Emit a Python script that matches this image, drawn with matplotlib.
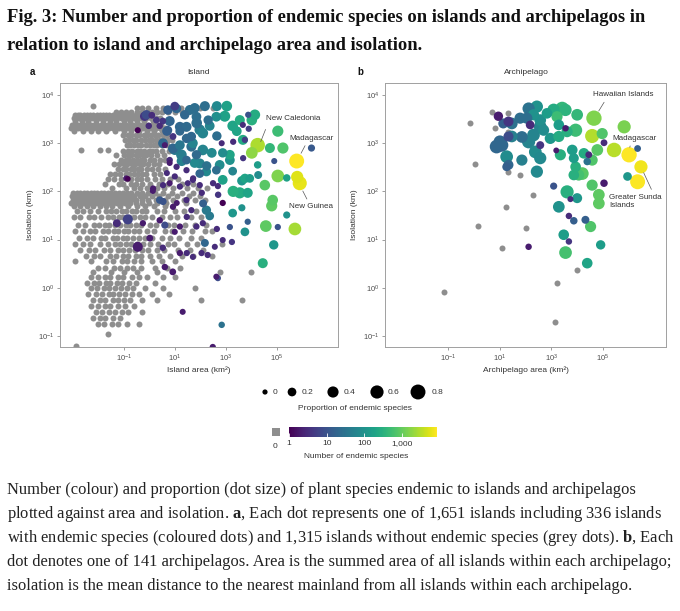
import matplotlib
matplotlib.use("Agg")
import matplotlib.pyplot as plt
import numpy as np
from matplotlib.colors import LogNorm
from matplotlib.cm import ScalarMappable
from matplotlib.patches import Rectangle
from matplotlib.ticker import NullLocator

plt.rcParams['font.family'] = ['Liberation Sans', 'DejaVu Sans']
plt.rcParams['mathtext.fontset'] = 'custom'
plt.rcParams['mathtext.rm'] = 'Liberation Sans'
plt.rcParams['mathtext.it'] = 'Liberation Sans:italic'
plt.rcParams['mathtext.bf'] = 'Liberation Serif:bold'

# ---- data (log10 area km2, log10 isolation km) ----
# islands without endemics, by rows: (log10 isolation, [log10 area, ...])
grey_rows_a = [
    (3.77, [-2.2]),
    (3.74, [-0.5, -0.3, -0.05, 0.25, 0.55, 0.85, 1.25, 1.6, 2.0, 2.5]),
    (3.65, [-1.3, -1.1, -0.9, -0.7, -0.5, -0.3, -0.1, 0.1, 0.3, 0.5, 0.75, 1.0, 1.3]),
    (3.58, [-2.93, -2.81, -2.7, -2.57, -2.44, -2.33, -2.2, -2.06, -1.95, -1.82, -1.7, -1.56,
            -1.43, -1.31, -1.18, -1.05, -0.92, -0.8, -0.66, -0.52, -0.38, -0.22, -0.05, 0.12]),
    (3.52, [-2.97, -2.86, -2.74, -2.62, -2.5, -2.38, -2.26, -2.13, -2.0, -1.88, -1.75, -1.62,
            -1.5, -1.37, -1.25, -1.12, -0.98, -0.86, -0.72, -0.6, -0.45, -0.3, -0.14, 0.05,
            0.25, 0.42]),
    (3.47, [-2.9, -2.65, -2.4, -2.1, -1.8, -1.55, -1.3, -1.0, -0.75, -0.5, -0.2, 0.15]),
    (3.37, [-3.02, -2.9, -2.78, -2.66, -2.53, -2.41, -2.28, -2.16, -2.03, -1.91, -1.78, -1.66,
            -1.53, -1.41, -1.28, -1.16, -1.03, -0.9, -0.77, -0.63, -0.5, -0.36, -0.21, -0.06,
            0.1, 0.27, 0.45]),
    (3.31, [-3.05, -2.93, -2.8, -2.68, -2.56, -2.44, -2.31, -2.19, -2.06, -1.94, -1.81, -1.69,
            -1.56, -1.44, -1.31, -1.19, -1.06, -0.93, -0.8, -0.66, -0.52, -0.38, -0.23, -0.08,
            0.08, 0.25, 0.42, 0.6]),
    (3.25, [-2.95, -2.6, -2.3, -2.0, -1.7, -1.35, -1.0, -0.7, -0.4, -0.1, 0.2, 0.5]),
    (3.17, [-1.02, -0.84, -0.71, -0.52, -0.41, -0.22, -0.08, 0.07, 0.24, 0.33, 0.52, 0.68]),
    (3.07, [-0.96, -0.79, -0.63, -0.51, -0.33, -0.18, -0.02, 0.12, 0.26, 0.43, 0.57, 0.73, 0.88]),
    (2.97, [-0.88, -0.77, -0.58, -0.43, -0.31, -0.13, 0.02, 0.18, 0.31, 0.48, 0.71]),
    (2.86, [-2.66, -1.94, -1.63]),
    (2.84, [-1.03, -0.82, -0.66, -0.48, -0.36, -0.19, -0.03, 0.12, 0.28, 0.51, 0.78]),
    (2.76, [-1.3, -0.98, -0.83, -0.72, -0.53, -0.41, -0.24, -0.12, 0.08, 0.31, 0.57]),
    (2.66, [-1.12, -0.93, -0.81, -0.63, -0.49, -0.33, -0.21, 0.02, 0.19, 0.42, 0.61]),
    (2.56, [-1.38, -1.17, -0.98, -0.86, -0.68, -0.56, -0.38, -0.26, -0.04, 0.17, 0.39]),
    (2.46, [-1.22, -1.03, -0.91, -0.73, -0.61, -0.43, -0.31, -0.08, 0.12, 0.33, 0.62]),
    (2.36, [-1.52, -1.33, -1.16, -0.93, -0.81, -0.58, -0.46, -0.28, -0.11, 0.17, 0.44]),
    (2.26, [-1.61, -1.38, -1.12, -0.88, -0.71, -0.48, -0.31, -0.08, 0.21, 0.48, 0.82, 1.12]),
    (2.16, [-1.72, -1.18, -1.02, -0.73, -0.52, -0.28, 0.02, 0.38, 0.72, 1.28, 1.72]),
    (2.07, [-1.48, -0.92, -0.58, -0.37, -0.08, 0.31, 0.58, 0.92, 1.48, 1.92, 2.28]),
    (1.97, [-2.98, -2.84, -2.71, -2.57, -2.45, -2.3, -2.17, -2.03, -1.9, -1.76, -1.63, -1.49,
            -1.35, -1.2, -1.04, -0.88, -0.7, -0.5, -0.28, -0.05, 0.22, 0.55, 0.9, 1.3, 1.7]),
    (1.90, [-3.04, -2.91, -2.78, -2.64, -2.51, -2.38, -2.24, -2.1, -1.97, -1.83, -1.69, -1.56,
            -1.42, -1.27, -1.12, -0.96, -0.78, -0.6, -0.38, -0.15, 0.1, 0.4, 0.75, 1.1, 1.55, 2.0]),
    (1.83, [-3.0, -2.87, -2.74, -2.6, -2.47, -2.33, -2.2, -2.06, -1.93, -1.79, -1.65, -1.51,
            -1.37, -1.22, -1.06, -0.9, -0.72, -0.52, -0.3, -0.05, 0.25, 0.6, 0.95, 1.35, 1.8, 2.2]),
    (1.76, [-3.05, -2.93, -2.8, -2.67, -2.54, -2.4, -2.27, -2.13, -2.0, -1.86, -1.72, -1.58,
            -1.44, -1.28, -1.12, -0.95, -0.75, -0.52, -0.28, 0.0, 0.3, 0.65, 1.0, 1.45]),
    (1.70, [-2.95, -2.7, -2.45, -2.2, -1.95, -1.7, -1.45, -1.15, -0.85, -0.5, -0.15, 0.2, 0.6]),
    (1.59, [-2.85, -2.58, -2.31, -2.02, -1.68, -1.49, -1.32, -1.08, -0.91, -0.68, -0.52, -0.28,
            -0.12, 0.31, 0.58, 1.02, 1.38, 1.82]),
    (1.46, [-2.95, -2.72, -2.38, -2.16, -1.88, -1.62, -1.41, -1.18, -1.02, -0.78, -0.61, -0.38,
            -0.16, 0.12, 0.48, 0.82, 1.08, 1.62, 2.02]),
    (1.31, [-2.78, -2.52, -2.18, -1.96, -1.73, -1.56, -1.33, -1.16, -0.93, -0.76, -0.53, -0.31,
            0.02, 0.28, 0.72, 0.98, 1.42, 1.78, 2.22]),
    (1.17, [-2.9, -2.61, -2.33, -2.12, -1.83, -1.62, -1.38, -1.21, -0.98, -0.82, -0.58, -0.41,
            -0.08, 0.18, 0.62, 0.88, 1.32, 1.68, 2.18, 2.45]),
    (1.03, [-2.75, -2.43, -2.21, -1.88, -1.72, -1.43, -1.26, -1.03, -0.86, -0.63, -0.41, -0.18,
            0.12, 0.48, 0.82, 1.18, 1.62, 2.02]),
    (0.90, [-2.9, -2.58, -2.31, -1.93, -1.62, -1.33, -1.16, -0.93, -0.72, -0.48, -0.26, 0.02,
            0.33, 0.72, 0.98, 1.46, 1.88, 2.85]),
    (0.78, [-2.7, -2.38, -2.12, -1.78, -1.52, -1.23, -1.02, -0.78, -0.56, -0.28, -0.06, 0.32,
            0.58, 1.12, 1.58, 2.1]),
    (0.66, [-2.5, -2.18, -1.92, -1.53, -1.32, -1.03, -0.82, -0.53, -0.32, 0.02, 0.38, 0.82,
            1.28, 1.72, 2.45]),
    (0.55, [-2.92, -2.3, -1.68, -1.42, -1.08, -0.86, -0.58, -0.31, 0.12, 0.48, 1.02]),
    (0.42, [-2.0, -1.72, -1.38, -1.16, -0.88, -0.62, -0.33, 0.22, 0.68, 1.22]),
    (0.33, [-2.2, -1.5, -1.0, -0.5, 0.3, 2.76, 3.98]),
    (0.22, [-2.3, -2.02, -1.73, -1.52, -1.23, -1.02, -0.68, -0.42, -0.08, 0.52, 1.02]),
    (0.10, [-2.45, -2.18, -1.96, -1.68, -1.52, -1.28, -1.06, -0.78, -0.52, 0.22]),
    (0.00, [-2.3, -2.06, -1.78, -1.56, -1.33, -1.12, -0.88, -0.62, -0.18, 0.52, 1.78]),
    (-0.12, [-2.4, -2.08, -1.86, -1.58, -1.42, -1.18, -0.96, -0.68, -0.42, 0.12, 0.78]),
    (-0.25, [-2.2, -1.93, -1.72, -1.43, -1.22, -0.98, -0.76, -0.28, 0.32, 2.02, 3.63]),
    (-0.38, [-2.3, -2.02, -1.73, -1.52, -1.23, -0.96, -0.58]),
    (-0.50, [-2.1, -1.86, -1.58, -1.36, -1.08, -0.82, -0.28]),
    (-0.62, [-2.2, -1.93, -1.72, -1.43, -1.16]),
    (-0.75, [-2.0, -1.76, -1.48, -1.22, -0.88, -0.42]),
    (-0.97, [-1.63]),
    (-1.20, [-2.86]),
]

# islands with endemics: (log10 area, log10 isolation, endemic count, proportion)
endemic_a = [
    (-0.18, 3.56, 4, 0.25), (0.10, 3.58, 3, 0.08), (-0.45, 3.27, 1, 0.04), (-0.02, 3.36, 3, 0.06),
    (0.41, 3.36, 3, 0.06), (0.53, 3.46, 4, 0.08), (0.69, 3.25, 15, 0.25), (0.61, 2.96, 2, 0.04),
    (0.80, 2.59, 2, 0.04), (0.69, 2.38, 3, 0.04), (0.14, 2.01, 2, 0.04), (0.41, 1.82, 12, 0.12),
    (0.80, 2.17, 2, 0.04), (1.08, 1.76, 2, 0.03), (1.51, 2.17, 3, 0.04), (-0.84, 2.26, 1, 0.02),
    (0.73, 3.69, 15, 0.25), (1.00, 3.77, 5, 0.2), (0.80, 3.46, 18, 0.3), (1.20, 3.25, 20, 0.22),
    (1.00, 2.86, 40, 0.3), (1.27, 2.63, 50, 0.3), (0.54, 3.00, 20, 0.28), (0.93, 2.89, 20, 0.3),
    (1.26, 2.76, 45, 0.35), (1.46, 3.10, 20, 0.25), (1.65, 2.93, 25, 0.3), (1.85, 2.76, 22, 0.25),
    (1.20, 2.96, 35, 0.28), (1.98, 2.58, 60, 0.3), (2.24, 2.41, 70, 0.25), (1.98, 2.37, 20, 0.2),
    (2.63, 2.44, 25, 0.2), (1.59, 3.69, 25, 0.3), (1.39, 3.59, 20, 0.25), (1.85, 3.55, 25, 0.28),
    (1.98, 3.28, 45, 0.35), (1.07, 3.72, 20, 0.25), (0.73, 3.27, 15, 0.2), (1.20, 3.34, 20, 0.3),
    (0.93, 3.14, 4, 0.08), (0.28, 3.48, 4, 0.08), (-0.11, 3.59, 8, 0.25), (2.31, 3.48, 25, 0.25),
    (1.46, 3.34, 22, 0.3), (1.65, 3.14, 20, 0.25), (0.80, 2.65, 3, 0.06), (1.46, 2.65, 20, 0.2),
    (1.07, 2.51, 3, 0.05), (2.50, 2.17, 3, 0.05), (2.24, 1.61, 40, 0.25), (2.11, 1.75, 15, 0.15),
    (1.78, 3.73, 25, 0.3), (2.18, 3.77, 25, 0.3), (2.65, 3.77, 70, 0.3), (3.04, 3.77, 180, 0.35),
    (2.96, 3.56, 180, 0.38), (3.27, 3.36, 200, 0.35), (3.67, 3.38, 3, 0.04), (4.02, 3.48, 300, 0.35),
    (4.14, 3.59, 250, 0.35), (3.43, 3.25, 200, 0.28), (3.75, 3.07, 5, 0.05), (1.86, 3.42, 25, 0.35),
    (2.10, 3.21, 60, 0.35), (2.37, 3.36, 60, 0.28), (2.65, 3.15, 25, 0.25), (1.71, 3.00, 60, 0.28),
    (2.10, 2.86, 60, 0.35), (2.45, 2.80, 70, 0.28), (2.84, 3.00, 3, 0.04), (2.88, 2.80, 80, 0.25),
    (1.78, 2.59, 70, 0.28), (2.25, 2.53, 30, 0.25), (2.76, 2.55, 80, 0.28), (3.16, 2.65, 100, 0.28),
    (3.27, 2.42, 60, 0.2), (2.88, 2.24, 180, 0.28), (3.55, 1.97, 250, 0.4), (3.86, 1.97, 200, 0.3),
    (3.63, 2.22, 120, 0.25), (2.69, 2.11, 3, 0.05), (2.88, 1.76, 1, 0.05), (3.63, 1.66, 100, 0.1),
    (2.06, 1.97, 3, 0.05), (1.71, 2.24, 3, 0.05),
    (4.25, 2.96, 2800, 0.75), (4.02, 2.80, 1800, 0.45), (5.78, 2.63, 8500, 0.8),
    (5.90, 2.17, 6000, 0.7), (5.80, 2.30, 5500, 0.5), (5.04, 3.25, 500, 0.4), (5.24, 2.90, 700, 0.4),
    (4.73, 2.90, 400, 0.3), (5.04, 2.32, 1500, 0.55), (4.53, 2.13, 800, 0.35), (4.84, 1.82, 800, 0.35),
    (4.80, 1.70, 900, 0.4), (5.39, 2.28, 180, 0.12), (4.25, 2.55, 150, 0.12), (4.90, 2.63, 10, 0.04),
    (6.36, 2.90, 12, 0.1), (3.67, 3.07, 250, 0.3), (2.63, 3.55, 90, 0.28), (3.88, 3.59, 10, 0.05),
    (3.55, 3.48, 250, 0.3), (3.90, 3.30, 5, 0.05), (3.29, 3.03, 3, 0.05), (3.16, 2.76, 200, 0.28),
    (3.68, 2.69, 4, 0.05), (3.75, 2.27, 200, 0.25), (4.27, 2.34, 80, 0.15), (3.94, 2.27, 150, 0.2),
    (3.29, 2.00, 300, 0.4),
    (2.37, 1.49, 40, 0.2), (2.10, 1.34, 3, 0.05), (2.18, 0.93, 20, 0.15), (2.65, 1.22, 3, 0.05),
    (3.16, 1.26, 10, 0.05), (2.88, 0.99, 3, 0.04), (3.24, 0.95, 4, 0.05), (2.57, 0.85, 3, 0.04),
    (2.29, 0.68, 3, 0.05), (1.71, 0.64, 3, 0.04), (3.27, 1.55, 120, 0.2), (3.86, 1.37, 15, 0.05),
    (3.75, 1.16, 100, 0.2), (4.57, 1.28, 900, 0.45), (5.04, 1.26, 10, 0.05), (5.39, 1.51, 100, 0.1),
    (5.71, 1.22, 2500, 0.55), (4.88, 0.89, 120, 0.25), (4.45, 0.51, 300, 0.3), (2.69, 0.20, 8, 0.05),
    (2.84, -0.77, 30, 0.06), (2.49, -1.23, 2, 0.05),
    (-1.27, 1.34, 3, 0.15), (-0.84, 1.42, 6, 0.3), (-0.25, 1.34, 2, 0.05), (0.41, 1.40, 2, 0.06),
    (0.61, 1.30, 8, 0.1), (1.00, 1.16, 2, 0.04), (1.47, 1.47, 3, 0.05), (-0.45, 0.85, 2, 0.3),
    (0.02, 1.03, 2, 0.08), (0.53, 0.83, 3, 0.06), (0.61, 0.43, 2, 0.06), (0.92, 0.33, 2, 0.08),
    (1.31, -0.50, 2, 0.04), (1.47, 0.72, 3, 0.05),
    (1.20, 1.27, 2, 0.05), (1.85, 1.27, 3, 0.05), (1.20, 0.72, 2, 0.05), (2.05, 0.72, 3, 0.05),
    (2.63, 0.23, 2, 0.04), (1.65, 1.61, 3, 0.05), (1.46, 1.82, 3, 0.05), (0.93, 1.68, 2, 0.05),
    (0.54, 1.79, 10, 0.1), (0.15, 2.06, 2, 0.05), (0.54, 2.13, 3, 0.05), (1.00, 2.31, 3, 0.05),
    (1.20, 2.10, 3, 0.05), (1.46, 2.44, 3, 0.05), (1.72, 2.27, 3, 0.05), (1.98, 2.13, 3, 0.05),
    (2.70, 1.93, 4, 0.06), (-0.90, 2.27, 2, 0.04),
]

# archipelagos without endemics: (log10 area, log10 isolation)
grey_b = [
    (-0.16, 3.43), (0.69, 3.65), (0.82, 3.31), (1.34, 3.62), (1.34, 3.24), (0.04, 2.57),
    (1.79, 2.34), (1.34, 2.41), (2.29, 1.93), (1.25, 1.68), (0.17, 1.28), (2.00, 1.25),
    (1.08, 0.82), (4.00, 0.36), (3.22, 0.09), (-1.17, -0.08), (3.16, -0.72),
]

# archipelagos with endemics: (log10 area, log10 isolation, endemic count, proportion)
endemic_b = [
    (4.65, 3.52, 1500, 0.85), (5.82, 3.34, 1400, 0.6), (4.58, 3.15, 3000, 0.7),
    (5.43, 2.86, 3200, 0.75), (6.01, 2.76, 8500, 0.85), (6.47, 2.51, 7000, 0.6),
    (6.34, 2.20, 8000, 0.8), (5.95, 2.31, 120, 0.2), (6.34, 2.89, 15, 0.08), (5.04, 3.01, 3, 0.08),
    (4.97, 3.20, 700, 0.4), (4.78, 2.86, 800, 0.45), (4.58, 2.65, 700, 0.4), (4.26, 2.79, 250, 0.35),
    (4.39, 2.62, 30, 0.12), (4.45, 2.76, 3, 0.08), (4.06, 2.34, 600, 0.4), (4.20, 2.37, 800, 0.55),
    (3.87, 2.34, 300, 0.35), (3.94, 2.51, 300, 0.35), (3.87, 2.69, 150, 0.3), (3.81, 2.86, 150, 0.35),
    (3.94, 3.27, 500, 0.6), (4.00, 3.59, 400, 0.45), (3.42, 3.72, 400, 0.65), (3.55, 3.69, 350, 0.5),
    (3.09, 3.69, 250, 0.55), (3.22, 3.55, 500, 0.4), (3.29, 3.38, 150, 0.35), (2.83, 3.62, 150, 0.35),
    (2.44, 3.76, 100, 0.5), (2.12, 3.72, 30, 0.5), (2.31, 3.59, 100, 0.4), (2.05, 3.52, 25, 0.4),
    (2.18, 3.38, 3, 0.2), (1.79, 3.52, 25, 0.4), (1.86, 3.13, 25, 0.45), (1.47, 3.41, 30, 0.45),
    (1.34, 3.14, 8, 0.3), (1.47, 3.14, 50, 0.45), (2.12, 3.03, 60, 0.6), (2.31, 3.17, 60, 0.55),
    (2.57, 3.34, 60, 0.55), (2.57, 3.48, 90, 0.45), (2.70, 3.27, 80, 0.4), (2.96, 3.10, 120, 0.4),
    (3.29, 3.14, 250, 0.4), (3.55, 3.31, 2, 0.06), (3.61, 3.24, 300, 0.4), (3.19, 2.85, 2, 0.03),
    (3.35, 2.76, 300, 0.4), (2.57, 2.96, 4, 0.15), (2.38, 2.82, 80, 0.55), (2.57, 2.69, 70, 0.5),
    (2.44, 2.41, 70, 0.5), (1.86, 2.65, 50, 0.4), (1.34, 2.55, 20, 0.3), (1.27, 2.72, 80, 0.55),
    (1.08, 2.96, 20, 0.6), (0.88, 2.93, 20, 0.65), (1.01, 3.03, 20, 0.55), (1.27, 2.51, 15, 0.2),
    (1.14, 3.41, 15, 0.3), (1.34, 3.45, 4, 0.3), (0.95, 3.56, 2, 0.25), (3.29, 1.68, 100, 0.45),
    (3.61, 1.99, 300, 0.6), (3.09, 2.11, 10, 0.1), (4.00, 1.86, 120, 0.3), (3.74, 1.84, 3, 0.04),
    (4.58, 2.13, 700, 0.4), (4.84, 1.93, 900, 0.45), (4.84, 1.75, 900, 0.45), (5.04, 2.17, 2, 0.12),
    (3.48, 1.10, 150, 0.35), (3.68, 1.49, 3, 0.06), (3.87, 1.39, 15, 0.12), (4.32, 1.41, 15, 0.15),
    (4.52, 1.27, 700, 0.4), (3.68, 0.96, 4, 0.06), (3.55, 0.73, 600, 0.55), (4.39, 0.51, 200, 0.35),
    (4.91, 0.89, 150, 0.25), (2.12, 0.85, 2, 0.06),
]

size_keys = [0, 0.2, 0.4, 0.6, 0.8]
count_ticks = [1, 10, 100, 1000]
count_labels = ['1', '10', '100', '1,000']

title_lines = ["Fig. 3: Number and proportion of endemic species on islands and archipelagos in",
               "relation to island and archipelago area and isolation."]
caption_lines = [
    "Number (colour) and proportion (dot size) of plant species endemic to islands and archipelagos",
    r"plotted against area and isolation. $\mathbf{a}$, Each dot represents one of 1,651 islands including 336 islands",
    r"with endemic species (coloured dots) and 1,315 islands without endemic species (grey dots). $\mathbf{b}$, Each",
    "dot denotes one of 141 archipelagos. Area is the summed area of all islands within each archipelago;",
    "isolation is the mean distance to the nearest mainland from all islands within each archipelago.",
]

GREY = '#8e8e8e'
GREY_S = 0.5184 * 36      # grey dots, about 6 px across
TXT = '#333333'
norm = LogNorm(vmin=1, vmax=10 ** 3.93)
cmap = plt.get_cmap('viridis')

W, H = 680, 611
fig = plt.figure(figsize=(W / 100, H / 100), dpi=100)


def fx(px):
    return px / W


def fy(py):
    return 1 - py / H


def dot_size(p):
    # marker area in pt^2 from proportion of endemics (diameter^2 in px = 27 + 245 p)
    return 0.5184 * (27 + 245 * np.asarray(p, dtype=float))


# overlay for legend keys
ov = fig.add_axes([0, 0, 1, 1], zorder=0)
ov.set_xlim(0, W)
ov.set_ylim(H, 0)
ov.axis('off')


def setup(ax, xl):
    ax.set_xscale('log')
    ax.set_yscale('log')
    ax.set_xlim(10 ** xl[0], 10 ** xl[1])
    ax.set_ylim(10 ** -1.23, 10 ** 4.25)
    ax.set_xticks([1e-1, 1e1, 1e3, 1e5])
    ax.set_xticklabels([r'$10^{-1}$', r'$10^{1}$', r'$10^{3}$', r'$10^{5}$'])
    ax.set_yticks([1e-1, 1e0, 1e1, 1e2, 1e3, 1e4])
    ax.set_yticklabels([r'$10^{-1}$', r'$10^{0}$', r'$10^{1}$', r'$10^{2}$', r'$10^{3}$', r'$10^{4}$'])
    ax.xaxis.set_minor_locator(NullLocator())
    ax.yaxis.set_minor_locator(NullLocator())
    ax.tick_params(length=2, width=0.5, color='#777777', labelsize=5.5,
                   labelcolor='#4d4d4d', pad=2)
    for s in ax.spines.values():
        s.set_color('#a0a0a0')
        s.set_linewidth(0.7)


def plot_points(ax, gx, gy, pts):
    ax.scatter(10 ** np.array(gx), 10 ** np.array(gy), s=GREY_S, c=GREY,
               linewidths=0, zorder=2)
    pts = sorted(pts, key=lambda t: -t[3])
    x = 10 ** np.array([t[0] for t in pts])
    y = 10 ** np.array([t[1] for t in pts])
    n = np.array([t[2] for t in pts])
    p = np.array([t[3] for t in pts])
    ax.scatter(x, y, s=dot_size(p), c=n, cmap=cmap, norm=norm, linewidths=0, zorder=3)


def note(ax, text, txy, p0, p1, ha='center'):
    ax.annotate('', xy=(10 ** p1[0], 10 ** p1[1]), xytext=(10 ** p0[0], 10 ** p0[1]),
                arrowprops=dict(arrowstyle='-', color='#555555', lw=0.5), zorder=5)
    ax.text(10 ** txy[0], 10 ** txy[1], text, ha=ha, va='center', fontsize=5.8,
            color=TXT, zorder=6, linespacing=1.3)


# panel a
axa = fig.add_axes([fx(60), fy(347), fx(278), 264 / H])
setup(axa, (-3.5, 7.4))
ga_x = [x for yv, xs in grey_rows_a for x in xs]
ga_y = [yv for yv, xs in grey_rows_a for x in xs]
plot_points(axa, ga_x, ga_y, endemic_a)
note(axa, 'New Caledonia', (5.64, 3.52), (4.6, 3.34), (4.33, 2.98))
note(axa, 'Madagascar', (6.36, 3.1), (6.16, 3.0), (5.9, 2.74))
note(axa, 'New Guinea', (6.36, 1.68), (6.23, 1.79), (5.97, 2.06))

# panel b
axb = fig.add_axes([fx(385), fy(347), fx(281), 264 / H])
setup(axb, (-3.44, 7.44))
plot_points(axb, [t[0] for t in grey_b], [t[1] for t in grey_b], endemic_b)
note(axb, 'Hawaiian Islands', (5.79, 4.01), (5.1, 3.9), (4.78, 3.62))
note(axb, 'Madagascar', (6.21, 3.1), (6.08, 3.0), (6.01, 2.86))
note(axb, 'Greater Sunda\nIslands', (5.23, 1.79), (6.92, 1.99), (6.53, 2.44), ha='left')

# panel labels / titles / axis labels
for px, s in [(30, 'a'), (357, 'b')]:
    fig.text(fx(px), fy(72), s, fontsize=7, fontweight='bold', ha='left', va='center', color='#111111')
fig.text(fx(199), fy(72), 'Island', fontsize=6, ha='center', va='center', color=TXT)
fig.text(fx(526), fy(72), 'Archipelago', fontsize=6, ha='center', va='center', color=TXT)
fig.text(fx(199), fy(370), 'Island area (km²)', fontsize=6, ha='center', va='center', color=TXT)
fig.text(fx(526), fy(370), 'Archipelago area (km²)', fontsize=6, ha='center', va='center', color=TXT)
fig.text(fx(30), fy(215), 'Isolation (km)', fontsize=6, ha='center', va='center', rotation=90, color=TXT)
fig.text(fx(355), fy(215), 'Isolation (km)', fontsize=6, ha='center', va='center', rotation=90, color=TXT)

# size legend
key_x = [265, 292, 333, 377, 418]
lab_x = [275, 307, 350, 393, 437]
ov.scatter(key_x, [392] * len(key_x), s=dot_size(size_keys), c='black', linewidths=0)
for lx, v in zip(lab_x, size_keys):
    ov.text(lx, 392, f'{v:g}', fontsize=6, ha='center', va='center', color=TXT)
ov.text(355, 409, 'Proportion of endemic species', fontsize=6, ha='center', va='center', color=TXT)

# colour bar
ov.add_patch(Rectangle((272, 428), 8, 8, color=GREY, lw=0))
ov.text(275, 446, '0', fontsize=6, ha='center', va='center', color=TXT)
cax = fig.add_axes([fx(289), fy(437), fx(148), 10 / H])
cb = fig.colorbar(ScalarMappable(norm=norm, cmap=cmap), cax=cax, orientation='horizontal')
cb.outline.set_visible(False)
cb.set_ticks(count_ticks)
cb.set_ticklabels(count_labels)
cax.xaxis.set_minor_locator(NullLocator())
cax.tick_params(length=3, width=0.6, color='white', direction='in', labelsize=6,
                labelcolor=TXT, pad=2)
ov.text(356, 456, 'Number of endemic species', fontsize=6, ha='center', va='center', color=TXT)

# heading and caption
renderer = fig.canvas.get_renderer()


def fit(t, target):
    w = t.get_window_extent(renderer).width
    t.set_fontsize(t.get_fontsize() * target / w)
    return t.get_fontsize()


t1 = fig.text(fx(7), fy(18), title_lines[0], fontsize=12, fontweight='bold',
              family='Liberation Serif', ha='left', va='center', color='#111111')
fs = fit(t1, 633)
fig.text(fx(7), fy(45), title_lines[1], fontsize=fs, fontweight='bold',
         family='Liberation Serif', ha='left', va='center', color='#111111')

cap = []
for i, line in enumerate(caption_lines):
    cap.append(fig.text(fx(7), fy(490 + 24 * i), line, fontsize=11, family='Liberation Serif',
                        ha='left', va='center', color='#222222'))
fs = fit(cap[2], 666)
for t in cap:
    t.set_fontsize(fs)

fig.savefig('out.png', dpi=100)
